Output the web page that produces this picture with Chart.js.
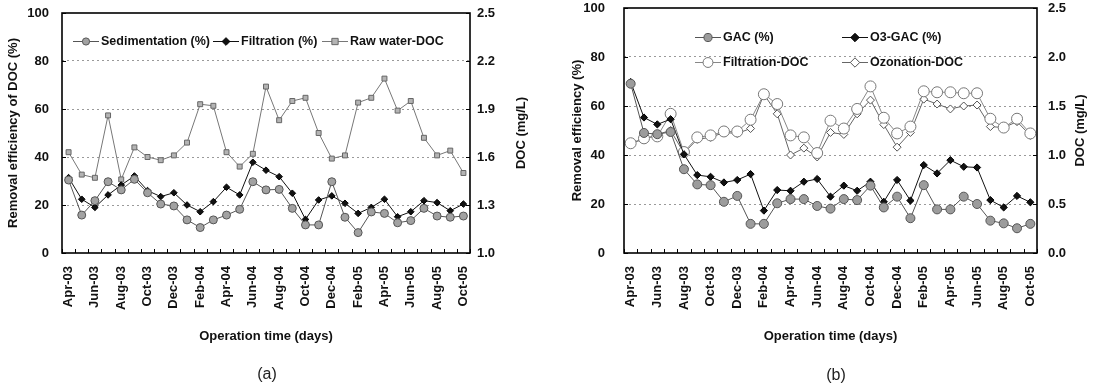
<!DOCTYPE html>
<html lang="en">
<head>
<meta charset="UTF-8">
<title>DOC removal efficiency</title>
<script src="https://cdn.jsdelivr.net/npm/chart.js@4.4.0/dist/chart.umd.min.js"></script>
<style>
  body { margin: 0; background: #fff; }
  #wrap { position: relative; width: 1099px; height: 386px; }
  .pane { position: absolute; top: 0; }
  .tag { position: absolute; width: 40px; text-align: center; font: 16px "Liberation Sans", Arial, sans-serif; color: #222; }
</style>
</head>
<body>
<div id="wrap">
  <canvas id="chartA" class="pane" width="548" height="386" style="left:0"></canvas>
  <canvas id="chartB" class="pane" width="551" height="386" style="left:548px"></canvas>
  <div class="tag" style="left:247px; top:365px">(a)</div>
  <div class="tag" style="left:816px; top:366px">(b)</div>
</div>

<script>
// months of operation, Apr-03 .. Oct-05
const months = ['Apr-03','May-03','Jun-03','Jul-03','Aug-03','Sep-03','Oct-03','Nov-03','Dec-03',
  'Jan-04','Feb-04','Mar-04','Apr-04','May-04','Jun-04','Jul-04','Aug-04','Sep-04','Oct-04','Nov-04','Dec-04',
  'Jan-05','Feb-05','Mar-05','Apr-05','May-05','Jun-05','Jul-05','Aug-05','Sep-05','Oct-05'];

const pctTicks = [0, 20, 40, 60, 80, 100];
const docTicksA = [1.0, 1.3, 1.6, 1.9, 2.2, 2.5];
const docTicksB = [0.0, 0.5, 1.0, 1.5, 2.0, 2.5];

// (a) removal (%) and raw water DOC (mg/L)
const sedimentation = [30.4,15.8,21.8,29.7,26.3,30.7,25.1,20.4,19.6,13.8,10.6,13.8,15.8,18.2,29.7,26.3,
  26.5,18.6,11.7,11.7,29.7,14.9,8.5,17.1,16.5,12.6,13.5,18.6,15.4,14.9,15.4];
const filtration = [31.4,22.4,19.0,24.2,28.3,32.1,26.0,23.5,25.1,20.0,17.2,21.4,27.4,24.2,37.8,34.5,
  31.8,24.9,14.0,22.1,23.8,20.7,16.5,19.0,22.4,15.1,17.2,21.8,21.0,17.6,20.4];
const rawDoc = [1.63,1.49,1.47,1.86,1.46,1.66,1.60,1.58,1.61,1.69,1.93,1.92,1.63,1.54,1.62,2.04,
  1.83,1.95,1.97,1.75,1.59,1.61,1.94,1.97,2.09,1.89,1.95,1.72,1.61,1.64,1.50];

// (b) removal (%) and DOC (mg/L)
const gac = [69.1,49.0,48.5,49.4,34.2,28.0,27.7,20.9,23.3,11.9,11.9,20.3,22.0,22.0,19.2,18.1,
  22.0,21.6,27.5,18.6,23.0,14.2,27.7,17.8,17.8,23.0,20.0,13.2,12.1,10.1,11.9];
const o3gac = [69.8,55.3,52.5,54.6,40.3,31.8,31.1,28.8,29.8,32.2,17.3,25.7,25.4,29.1,30.2,23.0,
  27.5,25.4,29.1,20.9,29.8,21.4,35.9,32.5,37.9,35.2,34.9,21.6,18.6,23.3,20.7];
const filtrationDoc = [1.12,1.17,1.19,1.42,1.03,1.18,1.20,1.24,1.24,1.36,1.62,1.52,1.20,1.18,1.02,1.35,
  1.27,1.47,1.70,1.38,1.22,1.29,1.65,1.64,1.64,1.63,1.63,1.37,1.28,1.37,1.22];
const ozonationDoc = [1.12,1.16,1.21,1.25,1.02,1.16,1.18,1.23,1.22,1.27,1.62,1.42,1.00,1.07,0.98,1.23,
  1.21,1.42,1.56,1.31,1.08,1.23,1.57,1.52,1.47,1.50,1.51,1.29,1.28,1.34,1.20];

const FONT = '"Liberation Sans", Arial, Helvetica, sans-serif';
Chart.defaults.font.family = FONT;
Chart.defaults.font.size = 13;
Chart.defaults.font.weight = 'bold';
Chart.defaults.color = '#111';

function marker(ctx, style, x, y, r) {
  ctx.beginPath();
  if (style === 'rect') {
    ctx.rect(x - r, y - r, 2 * r, 2 * r);
  } else if (style === 'rectRot') {
    ctx.moveTo(x, y - r * 1.3); ctx.lineTo(x + r * 1.3, y);
    ctx.lineTo(x, y + r * 1.3); ctx.lineTo(x - r * 1.3, y);
    ctx.closePath();
  } else {
    ctx.arc(x, y, r, 0, Math.PI * 2);
  }
  ctx.fill();
  ctx.stroke();
}

// frame, inside tick marks, right-hand title and the legend
const paper = {
  id: 'paper',
  afterDraw(chart, args, o) {
    const ctx = chart.ctx;
    const a = chart.chartArea;
    const xs = chart.scales.x;
    ctx.save();
    ctx.strokeStyle = '#000';
    ctx.lineWidth = 1;
    const half = (xs.getPixelForValue(1) - xs.getPixelForValue(0)) / 2;
    ctx.beginPath();
    for (let i = 0; i <= months.length; i++) {
      const x = Math.round(xs.getPixelForValue(i) - half) + 0.5;
      ctx.moveTo(x, a.bottom); ctx.lineTo(x, a.bottom - 4);
    }
    chart.scales.y.ticks.forEach(t => {
      const y = Math.round(chart.scales.y.getPixelForValue(t.value)) + 0.5;
      ctx.moveTo(a.left, y); ctx.lineTo(a.left + 4, y);
    });
    chart.scales.y1.ticks.forEach(t => {
      const y = Math.round(chart.scales.y1.getPixelForValue(t.value)) + 0.5;
      ctx.moveTo(a.right, y); ctx.lineTo(a.right - 4, y);
    });
    ctx.stroke();
    ctx.lineWidth = 1.6;
    ctx.strokeRect(a.left, a.top, a.right - a.left, a.bottom - a.top);

    ctx.fillStyle = '#111';
    ctx.font = 'bold 13px ' + FONT;
    ctx.textAlign = 'center';
    ctx.textBaseline = 'middle';
    ctx.translate(o.rightTitleX, (a.top + a.bottom) / 2);
    ctx.rotate(-Math.PI / 2);
    ctx.fillText(o.rightTitle, 0, 0);
    ctx.setTransform(1, 0, 0, 1, 0, 0);

    ctx.font = 'bold 12.5px ' + FONT;
    ctx.textAlign = 'left';
    chart.data.datasets.forEach((ds, i) => {
      const [x, y] = o.items[i];
      ctx.strokeStyle = ds.borderColor;
      ctx.lineWidth = ds.borderWidth;
      ctx.beginPath();
      ctx.moveTo(x, y + 0.5); ctx.lineTo(x + o.lineLen, y + 0.5);
      ctx.stroke();
      ctx.fillStyle = ds.pointBackgroundColor;
      ctx.strokeStyle = ds.pointBorderColor;
      ctx.lineWidth = ds.pointBorderWidth;
      marker(ctx, ds.pointStyle, x + o.lineLen / 2, y + 0.5, ds.pointRadius * 0.9);
      ctx.fillStyle = '#111';
      ctx.fillText(ds.label, x + o.lineLen + 2, y + 1);
    });
    ctx.restore();
  }
};

function series(label, data, axis, style, r, fill, edge, line) {
  return {
    label: label, data: data, yAxisID: axis,
    borderColor: line, borderWidth: 1, tension: 0, fill: false,
    pointStyle: style, pointRadius: r, pointBackgroundColor: fill,
    pointBorderColor: edge, pointBorderWidth: 1
  };
}

function makeScales(leftW, rightW, leftPad, rightPad, leftTitle, leftTitlePad, docMin, docMax, docTicks) {
  return {
    x: {
      type: 'category', offset: true,
      grid: { display: false }, border: { display: false },
      ticks: {
        autoSkip: false, minRotation: 90, maxRotation: 90, padding: 5,
        callback: function (v, i) { return i % 2 === 0 ? this.getLabelForValue(v) : ''; }
      },
      title: { display: true, text: 'Operation time (days)', padding: 0 },
      afterFit: s => { s.height = 91; s.paddingLeft = 0; s.paddingRight = 0; }
    },
    y: {
      position: 'left', min: 0, max: 100,
      afterBuildTicks: s => { s.ticks = pctTicks.map(v => ({ value: v })); },
      grid: {
        drawTicks: false, lineWidth: 1,
        color: c => (c.tick.value > 0 && c.tick.value < 100) ? '#9a9a9a' : 'rgba(0,0,0,0)'
      },
      border: { display: false, dash: [2, 3] },
      ticks: { padding: leftPad },
      title: { display: true, text: leftTitle, padding: { top: leftTitlePad, bottom: 0 } },
      afterFit: s => { s.width = leftW; s.paddingTop = 0; s.paddingBottom = 0; }
    },
    y1: {
      position: 'right', min: docMin, max: docMax,
      afterBuildTicks: s => { s.ticks = docTicks.map(v => ({ value: v })); },
      grid: { display: false, drawTicks: false }, border: { display: false },
      ticks: { padding: rightPad, callback: v => v.toFixed(1) },
      afterFit: s => { s.width = rightW; s.paddingTop = 0; s.paddingBottom = 0; }
    }
  };
}

new Chart(document.getElementById('chartA'), {
  type: 'line',
  data: {
    labels: months,
    datasets: [
      series('Sedimentation (%)', sedimentation, 'y', 'circle', 4, '#a2a2a2', '#555', '#555'),
      series('Filtration (%)', filtration, 'y', 'rectRot', 3.3, '#111', '#000', '#111'),
      series('Raw water-DOC', rawDoc, 'y1', 'rect', 3.5, '#b4b4b4', '#666', '#777')
    ]
  },
  options: {
    responsive: false, animation: false, events: [],
    layout: { padding: { top: 13, bottom: 42, left: 0, right: 0 } },
    scales: makeScales(62, 78, 13, 7, 'Removal efficiency of DOC (%)', 6, 1.0, 2.5, docTicksA),
    plugins: {
      legend: { display: false }, tooltip: { enabled: false },
      paper: { rightTitle: 'DOC (mg/L)', rightTitleX: 521, lineLen: 26,
        items: [[73, 41], [213, 41], [322, 41]] }
    }
  },
  plugins: [paper]
});

new Chart(document.getElementById('chartB'), {
  type: 'line',
  data: {
    labels: months,
    datasets: [
      series('GAC (%)', gac, 'y', 'circle', 4.5, '#9c9c9c', '#555', '#555'),
      series('O3-GAC (%)', o3gac, 'y', 'rectRot', 3.6, '#111', '#000', '#111'),
      series('Filtration-DOC', filtrationDoc, 'y1', 'circle', 5.5, '#fff', '#777', '#888'),
      series('Ozonation-DOC', ozonationDoc, 'y1', 'rectRot', 4, '#fff', '#555', '#666')
    ]
  },
  options: {
    responsive: false, animation: false, events: [],
    layout: { padding: { top: 8, bottom: 42, left: 0, right: 0 } },
    scales: makeScales(76, 62, 19, 11, 'Removal efficiency (%)', 22, 0, 2.5, docTicksB),
    plugins: {
      legend: { display: false }, tooltip: { enabled: false },
      paper: { rightTitle: 'DOC (mg/L)', rightTitleX: 532, lineLen: 26,
        items: [[147, 37], [294, 37], [147, 62], [294, 62]] }
    }
  },
  plugins: [paper]
});
</script>
</body>
</html>
